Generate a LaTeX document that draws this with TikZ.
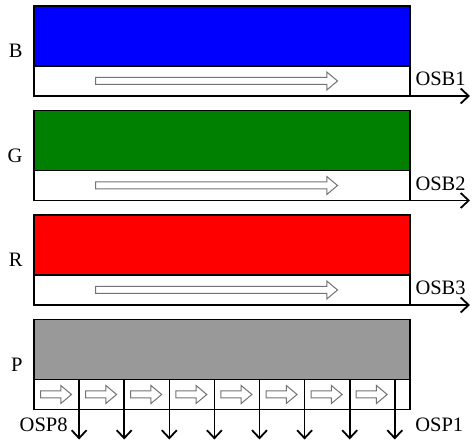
\documentclass[tikz,border=0pt]{standalone}
\usepackage{fontspec}
\setmainfont{Liberation Serif}
\usetikzlibrary{positioning, calc, shapes.arrows, arrows.meta}

\begin{document}
\begin{tikzpicture}[
                x=1pt, y=-1pt,
                font=\fontsize{20.5}{24}\selectfont,
                >={Straight Barb[length=8pt, width=15pt, line width=1.8pt]},
                bar/.style={draw, line width=1.5pt, outer sep=0pt, inner sep=0pt, minimum width=376pt, minimum height=60pt},
                strip/.style={draw, line width=1.5pt, outer sep=0pt, inner sep=0pt, fill=white, minimum width=376pt, minimum height=30pt},
                shiftarrow/.style={single arrow, draw=black!55, fill=white, line width=1pt, inner xsep=0pt, inner ysep=3pt,
                              single arrow head extend=5.5pt, single arrow tip angle=80},
                outarrow/.style={->, line width=1.6pt}]

    \useasboundingbox (0,0) rectangle (472,443);

    %%% BARS
    \node [bar, fill=blue, anchor=north west] (bbar) at (34,6) {};
    \node [strip, below=0pt of bbar] (bstrip) {};
    \node [bar, fill={rgb,255:red,0;green,128;blue,0}, below=14.5pt of bstrip] (gbar) {};
    \node [strip, below=0pt of gbar] (gstrip) {};
    \node [bar, fill=red, below=14.5pt of gstrip] (rbar) {};
    \node [strip, below=0pt of rbar] (rstrip) {};
    \node [bar, fill=black!40, below=14.5pt of rstrip] (pbar) {};
    \node [strip, below=0pt of pbar] (pstrip) {};

    %%% LETTERS
    \node [left=8pt of bbar.south west, yshift=15pt] (blabel) {B};
    \node [left=8pt of gbar.south west, yshift=15pt] (glabel) {G};
    \node [left=8pt of rbar.south west, yshift=15pt] (rlabel) {R};
    \node [left=8pt of pbar.south west, yshift=15pt] (plabel) {P};

    %%% SHIFT ARROWS
    \node [shiftarrow, minimum height=242pt, right=61pt of bstrip.west] (bshift) {};
    \node [shiftarrow, minimum height=242pt, right=61pt of gstrip.west] (gshift) {};
    \node [shiftarrow, minimum height=242pt, right=61pt of rstrip.west] (rshift) {};

    %%% SERIAL OUTPUTS
    \coordinate [right=60pt of bstrip.south east] (osb1);
    \coordinate [right=60pt of gstrip.south east] (osb2);
    \coordinate [right=60pt of rstrip.south east] (osb3);
    \draw [outarrow] (bstrip.south east) -- (osb1);
    \draw [outarrow] (gstrip.south east) -- (osb2);
    \draw [outarrow] (rstrip.south east) -- (osb3);
    \node [right=2pt of bstrip.east, yshift=2pt] (osb1label) {OSB1};
    \node [right=2pt of gstrip.east, yshift=2pt] (osb2label) {OSB2};
    \node [right=2pt of rstrip.east, yshift=2pt] (osb3label) {OSB3};

    %%% PARALLEL OUTPUTS
    \foreach \i in {1,...,8} {
        \coordinate (d\i) at ($(pstrip.north west)+(45.1*\i,0)$);
        \coordinate (o\i) at ($(d\i)+(0,60)$);
        \draw [outarrow] (d\i) -- (o\i);
        \node [shiftarrow, minimum height=31pt, anchor=west] (pshift\i) at ($(pstrip.west)+(45.1*\i-39.1,0)$) {};
    }
    \node [anchor=east] (osp8) at ($(o1)+(-8,-15)$) {OSP8};
    \node [anchor=west] (osp1) at ($(o8)+(17,-15)$) {OSP1};

\end{tikzpicture}
\end{document}
